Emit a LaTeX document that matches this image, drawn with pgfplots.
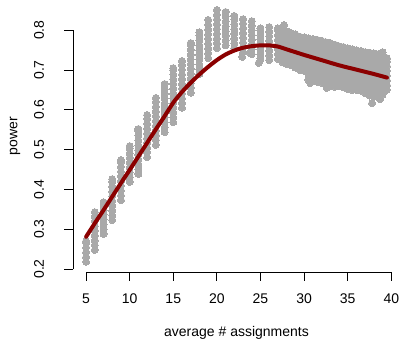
\documentclass[border=0pt]{standalone}
\usepackage{fontspec}
\setmainfont{Liberation Sans}
\usepackage{pgfplots}
\pgfplotsset{compat=1.18}
\definecolor{ptgray}{HTML}{A9A9A9}
\definecolor{fitred}{HTML}{8B0000}
\begin{document}
\fontsize{14bp}{17bp}\selectfont
\begin{tikzpicture}
\begin{axis}[
 set layers,
 scale only axis, width=327bp, height=272bp,
 xmin=3.5, xmax=41, ymin=0.1925, ymax=0.876,
 axis x line*=bottom, axis y line*=left,
 axis line style={draw=none},
 tick align=outside, major tick length=8.5bp,
 tick style={black, line width=0.9bp},
 xtick={5,10,15,20,25,30,35,40},
 ytick={0.2,0.3,0.4,0.5,0.6,0.7,0.8},
 xticklabels={5,10,15,20,25,30,35,40},
 yticklabels={0.2,0.3,0.4,0.5,0.6,0.7,0.8},
 /pgf/number format/assume math mode=true,
 xticklabel style={anchor=center, yshift=-18bp},
 yticklabel style={anchor=center, xshift=-25.5bp, rotate=90},
 xlabel={average \# assignments},
 ylabel={power},
 every axis x label/.style={at={(axis description cs:0.5,0)}, anchor=center, yshift=-61bp},
 every axis y label/.style={at={(axis description cs:0,0.5)}, anchor=center, xshift=-58bp, rotate=90},
 clip=false,
]
\addplot[ptgray, only marks, mark=*, mark size=3.5bp, mark options={draw=ptgray, fill=ptgray, line width=0pt}] coordinates {
(5,0.218)(5,0.230)(5,0.242)(5,0.254)(5,0.266)(5,0.270)
(6,0.248)(6,0.260)(6,0.272)(6,0.284)(6,0.296)(6,0.308)(6,0.320)(6,0.332)(6,0.343)
(7,0.288)(7,0.300)(7,0.312)(7,0.324)(7,0.336)(7,0.348)(7,0.360)(7,0.368)
(8,0.323)(8,0.335)(8,0.347)(8,0.359)(8,0.371)(8,0.383)(8,0.395)(8,0.407)(8,0.419)(8,0.426)
(9,0.373)(9,0.385)(9,0.397)(9,0.409)(9,0.421)(9,0.433)(9,0.445)(9,0.457)(9,0.469)(9,0.474)
(10,0.419)(10,0.431)(10,0.443)(10,0.455)(10,0.467)(10,0.479)(10,0.491)(10,0.503)(10,0.509)
(11,0.439)(11,0.451)(11,0.463)(11,0.475)(11,0.487)(11,0.499)(11,0.511)(11,0.523)(11,0.535)(11,0.547)(11,0.552)
(12,0.481)(12,0.493)(12,0.505)(12,0.517)(12,0.529)(12,0.541)(12,0.553)(12,0.565)(12,0.577)(12,0.587)
(13,0.512)(13,0.524)(13,0.536)(13,0.548)(13,0.560)(13,0.572)(13,0.584)(13,0.596)(13,0.608)(13,0.620)(13,0.630)
(14,0.544)(14,0.556)(14,0.568)(14,0.580)(14,0.592)(14,0.604)(14,0.616)(14,0.628)(14,0.640)(14,0.652)(14,0.665)
(15,0.569)(15,0.581)(15,0.593)(15,0.605)(15,0.617)(15,0.629)(15,0.641)(15,0.653)(15,0.665)(15,0.677)(15,0.689)(15,0.700)(15,0.705)
(16,0.605)(16,0.617)(16,0.629)(16,0.641)(16,0.653)(16,0.665)(16,0.677)(16,0.689)(16,0.701)(16,0.713)(16,0.723)
(17,0.643)(17,0.655)(17,0.667)(17,0.679)(17,0.691)(17,0.703)(17,0.715)(17,0.727)(17,0.739)(17,0.751)(17,0.763)(17,0.768)
(18,0.690)(18,0.702)(18,0.714)(18,0.726)(18,0.738)(18,0.750)(18,0.762)(18,0.774)(18,0.786)(18,0.795)
(19,0.730)(19,0.742)(19,0.754)(19,0.766)(19,0.778)(19,0.790)(19,0.802)(19,0.814)(19,0.826)
(20,0.755)(20,0.767)(20,0.779)(20,0.791)(20,0.803)(20,0.815)(20,0.827)(20,0.839)(20,0.851)
(21,0.762)(21,0.774)(21,0.786)(21,0.798)(21,0.810)(21,0.822)(21,0.834)(21,0.846)
(22,0.755)(22,0.767)(22,0.779)(22,0.791)(22,0.803)(22,0.815)(22,0.827)(22,0.836)
(23,0.745)(23,0.757)(23,0.769)(23,0.781)(23,0.793)(23,0.805)(23,0.817)(23,0.828)(22.9,0.733)
(24,0.740)(24,0.752)(24,0.764)(24,0.776)(24,0.788)(24,0.800)(24,0.812)(24,0.823)(23.8,0.743)
(25,0.728)(25,0.740)(25,0.752)(25,0.764)(25,0.776)(25,0.788)(25,0.800)(25,0.805)(24.8,0.718)
(26,0.725)(26,0.737)(26,0.749)(26,0.761)(26,0.773)(26,0.785)(26,0.797)(26,0.808)
(27,0.728)(27,0.740)(27,0.752)(27,0.764)(27,0.776)(27,0.788)(27,0.800)(27,0.805)(27.7,0.813)
(27.5,0.720)(27.5,0.732)(27.5,0.744)(27.5,0.756)(27.5,0.768)(27.5,0.780)(27.5,0.792)(27.5,0.800)
(28,0.715)(28,0.727)(28,0.739)(28,0.751)(28,0.763)(28,0.775)(28,0.787)(28,0.797)
(28.5,0.712)(28.5,0.724)(28.5,0.736)(28.5,0.748)(28.5,0.760)(28.5,0.772)(28.5,0.784)(28.5,0.793)
(29,0.706)(29,0.718)(29,0.730)(29,0.742)(29,0.754)(29,0.766)(29,0.778)(29,0.790)
(29.5,0.700)(29.5,0.712)(29.5,0.724)(29.5,0.736)(29.5,0.748)(29.5,0.760)(29.5,0.772)(29.5,0.784)
(30,0.698)(30,0.710)(30,0.722)(30,0.734)(30,0.746)(30,0.758)(30,0.770)(30,0.782)
(30.5,0.675)(30.5,0.690)(30.5,0.702)(30.5,0.714)(30.5,0.726)(30.5,0.738)(30.5,0.750)(30.5,0.762)(30.5,0.774)(30.5,0.780)(30.7,0.667)
(31,0.672)(31,0.684)(31,0.696)(31,0.708)(31,0.720)(31,0.732)(31,0.744)(31,0.756)(31,0.768)(31,0.778)
(31.5,0.670)(31.5,0.682)(31.5,0.694)(31.5,0.706)(31.5,0.718)(31.5,0.730)(31.5,0.742)(31.5,0.754)(31.5,0.766)(31.5,0.776)
(32,0.668)(32,0.680)(32,0.692)(32,0.704)(32,0.716)(32,0.728)(32,0.740)(32,0.752)(32,0.764)(32,0.774)
(32.5,0.662)(32.5,0.674)(32.5,0.686)(32.5,0.698)(32.5,0.710)(32.5,0.722)(32.5,0.734)(32.5,0.746)(32.5,0.758)(32.5,0.770)(32.6,0.655)
(33,0.660)(33,0.672)(33,0.684)(33,0.696)(33,0.708)(33,0.720)(33,0.732)(33,0.744)(33,0.756)(33,0.768)
(33.5,0.658)(33.5,0.670)(33.5,0.682)(33.5,0.694)(33.5,0.706)(33.5,0.718)(33.5,0.730)(33.5,0.742)(33.5,0.754)(33.5,0.764)
(34,0.660)(34,0.672)(34,0.684)(34,0.696)(34,0.708)(34,0.720)(34,0.732)(34,0.744)(34,0.756)(34,0.760)
(34.5,0.657)(34.5,0.668)(34.5,0.680)(34.5,0.692)(34.5,0.704)(34.5,0.716)(34.5,0.728)(34.5,0.740)(34.5,0.752)(34.5,0.758)
(35,0.652)(35,0.664)(35,0.676)(35,0.688)(35,0.700)(35,0.712)(35,0.724)(35,0.736)(35,0.748)(35,0.755)
(35.5,0.650)(35.5,0.662)(35.5,0.674)(35.5,0.686)(35.5,0.698)(35.5,0.710)(35.5,0.722)(35.5,0.734)(35.5,0.746)(35.5,0.752)
(36,0.650)(36,0.662)(36,0.674)(36,0.686)(36,0.698)(36,0.710)(36,0.722)(36,0.734)(36,0.746)(36,0.750)
(36.5,0.648)(36.5,0.660)(36.5,0.672)(36.5,0.684)(36.5,0.696)(36.5,0.708)(36.5,0.720)(36.5,0.732)(36.5,0.744)(36.5,0.748)
(37,0.642)(37,0.654)(37,0.666)(37,0.678)(37,0.690)(37,0.702)(37,0.714)(37,0.726)(37,0.738)(37,0.745)
(37.5,0.636)(37.5,0.648)(37.5,0.660)(37.5,0.672)(37.5,0.684)(37.5,0.696)(37.5,0.708)(37.5,0.720)(37.5,0.732)(37.5,0.744)(37.8,0.617)
(38,0.634)(38,0.646)(38,0.658)(38,0.670)(38,0.682)(38,0.694)(38,0.706)(38,0.718)(38,0.730)(38,0.742)
(38.5,0.632)(38.5,0.644)(38.5,0.656)(38.5,0.668)(38.5,0.680)(38.5,0.692)(38.5,0.704)(38.5,0.716)(38.5,0.728)(38.5,0.740)(38.7,0.627)
(39,0.638)(39,0.650)(39,0.662)(39,0.674)(39,0.686)(39,0.698)(39,0.710)(39,0.722)(39,0.734)(39,0.745)
(39.5,0.650)(39.5,0.662)(39.5,0.674)(39.5,0.686)(39.5,0.698)(39.5,0.710)(39.5,0.722)(39.5,0.730)
};
\addplot[fitred, line width=4bp, line cap=round, line join=round, smooth, tension=0.5, on layer=axis foreground] coordinates {
(5,0.281)(6,0.315)(7,0.348)(8,0.382)(9,0.416)(10,0.449)(11,0.483)(12,0.517)(13,0.551)(14,0.584)(15,0.618)
(16,0.645)(17,0.668)(18,0.689)(19,0.708)(20,0.725)(21,0.739)(22,0.749)(23,0.756)(24,0.760)(25,0.762)(26,0.762)
(27,0.759)(28,0.752)(29,0.745)(30,0.738)(32,0.725)(34,0.712)(36,0.701)(38,0.690)(39.5,0.681)
};
\draw[line width=0.9bp] (axis cs:5,0.1925) -- (axis cs:40,0.1925);
\draw[line width=0.9bp] (axis cs:3.5,0.2) -- (axis cs:3.5,0.8);
\end{axis}
\pgfresetboundingbox
\path (-73bp,-68bp) rectangle (327bp,272bp);
\end{tikzpicture}
\end{document}
